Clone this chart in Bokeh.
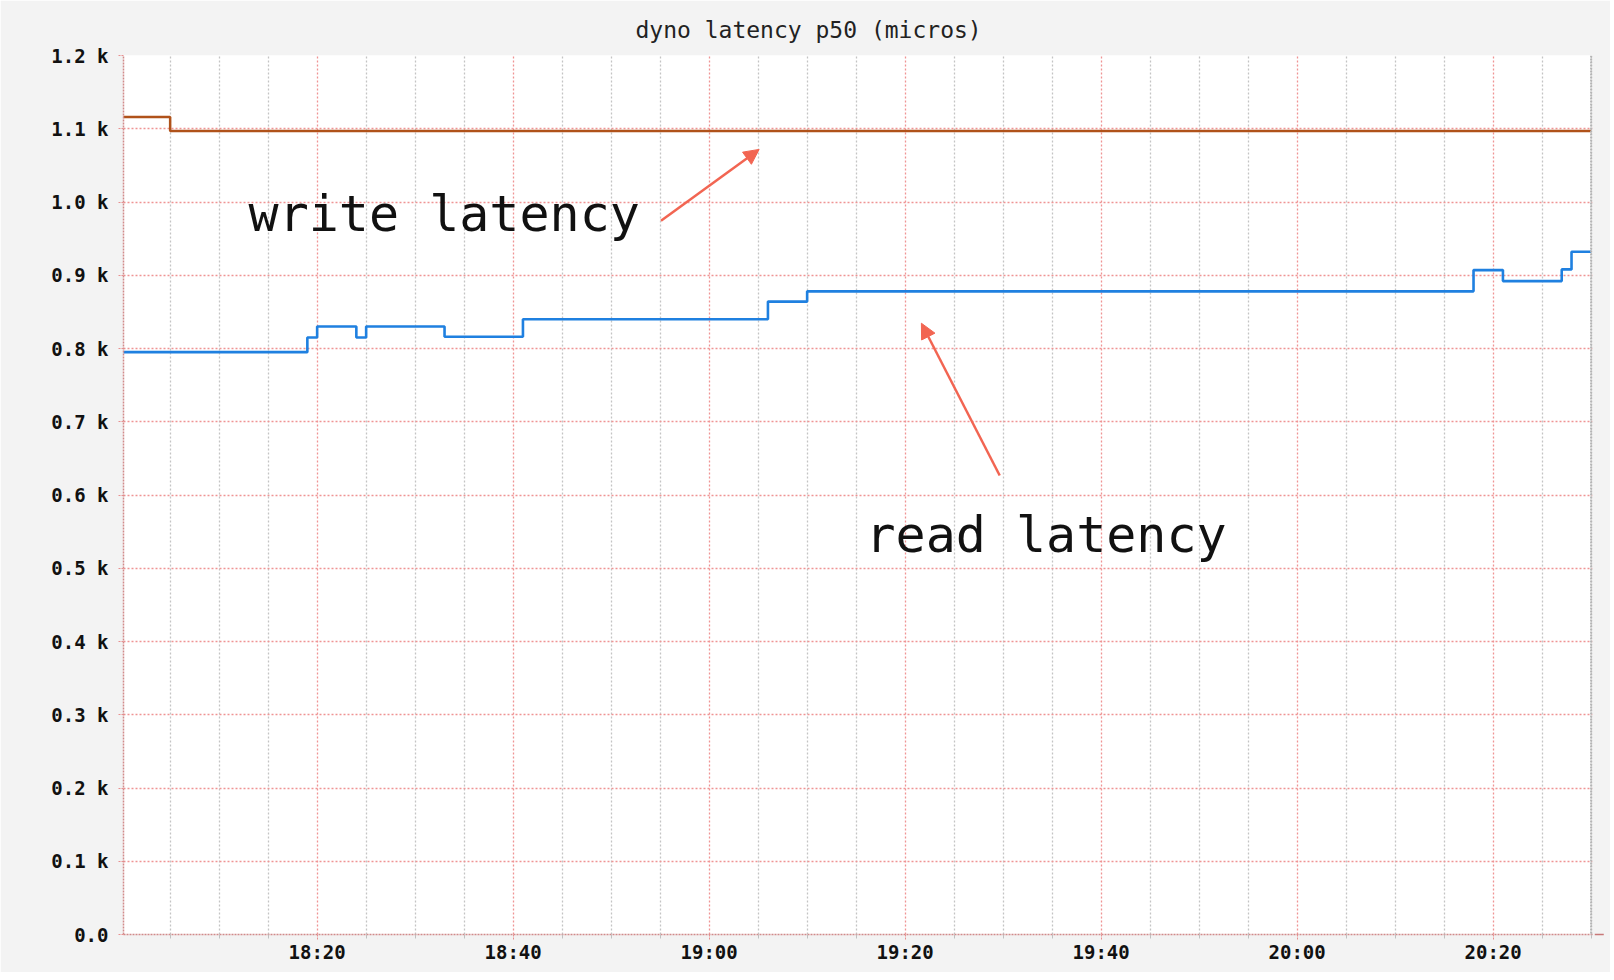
from bokeh.plotting import figure
from bokeh.models import Range1d, FixedTicker, Label, Arrow, NormalHead, Span
from bokeh.embed import file_html
from bokeh.resources import INLINE

# ---------------- data ----------------
write_times = ["18:00", "18:05", "20:30"]
write_values = [1116, 1097, 1097]

read_times = ["18:00", "18:19", "18:20", "18:24", "18:25", "18:33", "18:41",
              "19:06", "19:10", "20:18", "20:21", "20:27", "20:28", "20:30"]
read_values = [795, 815, 830, 815, 830, 816, 840, 864, 878, 907, 892, 908, 932, 932]

x_tick_labels = ["18:20", "18:40", "19:00", "19:20", "19:40", "20:00", "20:20"]
x_minor_labels = ["18:05", "18:10", "18:15", "18:25", "18:30", "18:35", "18:45",
                  "18:50", "18:55", "19:05", "19:10", "19:15", "19:25", "19:30",
                  "19:35", "19:45", "19:50", "19:55", "20:05", "20:10", "20:15",
                  "20:25", "20:30"]
y_ticks = [0, 100, 200, 300, 400, 500, 600, 700, 800, 900, 1000, 1100, 1200]
y_tick_labels = ["0.0", "0.1 k", "0.2 k", "0.3 k", "0.4 k", "0.5 k", "0.6 k",
                 "0.7 k", "0.8 k", "0.9 k", "1.0 k", "1.1 k", "1.2 k"]

title_text = "dyno latency p50 (micros)"


def to_min(t):
    h, m = t.split(":")
    return (int(h) - 18) * 60 + int(m)


X_START = 0.24
X_END = 150.14

wx = [to_min(t) for t in write_times]
rx = [to_min(t) for t in read_times]
x_major = [to_min(t) for t in x_tick_labels]
x_minor = [to_min(t) for t in x_minor_labels]

RED_GRID = "#ef9494"
GRAY_GRID = "#c4c4c4"

p = figure(width=1610, height=972, output_backend="svg", toolbar_location=None,
           x_range=Range1d(X_START, X_END), y_range=Range1d(0, 1200),
           min_border_left=123, min_border_right=18, min_border_top=55,
           min_border_bottom=38)

p.border_fill_color = "#f3f3f3"
p.background_fill_color = "white"
p.outline_line_color = None

# title
p.title.text = title_text
p.title.align = "left"
p.title.offset = 512
p.title.text_font = "DejaVu Sans Mono"
p.title.text_font_size = "23px"
p.title.text_font_style = "normal"
p.title.text_color = "#222222"
p.title.standoff = 26

# axes
xt = FixedTicker(ticks=x_major, minor_ticks=x_minor)
yt = FixedTicker(ticks=y_ticks)
p.xaxis.ticker = xt
p.yaxis.ticker = yt
p.xgrid.ticker = xt
p.ygrid.ticker = yt
p.xaxis.major_label_overrides = {k: v for k, v in zip(x_major, x_tick_labels)}
p.yaxis.major_label_overrides = {k: v for k, v in zip(y_ticks, y_tick_labels)}

for ax in (p.xaxis, p.yaxis):
    ax.major_label_text_font = "DejaVu Sans Mono"
    ax.major_label_text_font_style = "bold"
    ax.major_label_text_font_size = "19px"
    ax.major_label_text_color = "#111111"
    ax.axis_line_color = "#d08a8a"
    ax.axis_line_width = 1.5
    ax.axis_line_dash = "2 1"
    ax.major_tick_line_color = "#e89090"
    ax.major_tick_line_dash = "2 1"
    ax.major_tick_in = 0
    ax.major_tick_out = 5
    ax.minor_tick_line_color = "#c0c0c0"
    ax.minor_tick_in = 0
    ax.minor_tick_out = 4

p.yaxis.major_label_standoff = 10
p.xaxis.major_label_standoff = 1

# grids
p.xgrid.grid_line_color = RED_GRID
p.xgrid.grid_line_dash = "2 2"
p.xgrid.grid_line_width = 1.3
p.xgrid.minor_grid_line_color = GRAY_GRID
p.xgrid.minor_grid_line_dash = "2 2"
p.xgrid.minor_grid_line_width = 1.3
p.ygrid.grid_line_color = RED_GRID
p.ygrid.grid_line_dash = "2 2"
p.ygrid.grid_line_width = 1.3

# right edge marker
p.add_layout(Span(location=X_END - 0.12, dimension="height", line_color="#b5b5b5",
                  line_width=2.5, line_dash="2 1"))

# series
p.step(wx, write_values, mode="after", line_color="#b0521a", line_width=2.5)
p.step(rx, read_values, mode="after", line_color="#1f80e0", line_width=2.6)

# annotations
ANN = "#f26552"
p.add_layout(Label(x=13.0, y=983.0, text="write latency", text_font="DejaVu Sans Mono",
                   text_font_size="50px", text_color="#111111",
                   text_baseline="alphabetic"))
p.add_layout(Label(x=75.95, y=546.0, text="read latency", text_font="DejaVu Sans Mono",
                   text_font_size="50px", text_color="#111111",
                   text_baseline="alphabetic"))
p.add_layout(Arrow(end=NormalHead(size=15, fill_color=ANN, line_color=ANN),
                   x_start=55.09, y_start=974.5, x_end=65.10, y_end=1071.8,
                   line_color=ANN, line_width=2.5))
p.add_layout(Arrow(end=NormalHead(size=15, fill_color=ANN, line_color=ANN),
                   x_start=89.65, y_start=626.6, x_end=81.66, y_end=834.5,
                   line_color=ANN, line_width=2.5))

# axis end arrow
p.add_layout(Arrow(end=NormalHead(size=9, fill_color="white", line_color="#9b1c1c",
                                  line_width=1.5),
                   x_start=X_END, y_start=0, x_end=X_END + 1.15, y_end=0,
                   line_color="#c87878", line_width=1.5))

open("out.html", "w").write(file_html(p, INLINE))
